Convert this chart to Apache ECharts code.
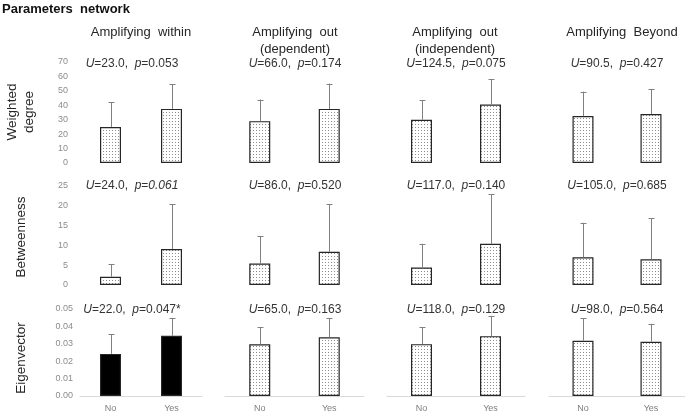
<!DOCTYPE html>
<html>
<head>
<meta charset="utf-8">
<script src="https://cdn.jsdelivr.net/npm/echarts@6/dist/echarts.min.js"></script>
<style>
  html, body { margin: 0; background: #fff; }
  #chart { width: 685px; height: 415px; }
</style>
</head>
<body>
<div id="chart"></div>
<script>
// ---- data ----
const groups = ['No', 'Yes'];
const columnTitles = [
  ['Amplifying  within'],
  ['Amplifying  out', '(dependent)'],
  ['Amplifying  out', '(independent)'],
  ['Amplifying  Beyond']
];
const rowNames = [['Weighted', 'degree'], ['Betweenness'], ['Eigenvector']];

// weighted degree (mean, sd) per column, [No, Yes]
const degreeMean = [[25, 37.5], [29, 37.5], [30, 40.5], [32.5, 34]];
const degreeSd = [[17, 17], [15, 17.5], [13.5, 17.5], [17, 17]];
const degreeU = ['23.0', '66.0', '124.5', '90.5'];
const degreeP = ['0.053', '0.174', '0.075', '0.427'];
const degreeTicks = [0, 10, 20, 30, 40, 50, 60, 70];

// betweenness
const betweenMean = [[2.1, 9.1], [5.4, 8.4], [4.4, 10.4], [7, 6.5]];
const betweenSd = [[3.1, 11.3], [7, 12], [6, 12.6], [8.7, 10.3]];
const betweenU = ['24.0', '86.0', '117.0', '105.0'];
const betweenP = ['0.061', '0.520', '0.140', '0.685'];
const betweenTicks = [0, 5, 10, 15, 20, 25];

// eigenvector
const eigenMean = [[0.0242, 0.0346], [0.0297, 0.0337], [0.0298, 0.0344], [0.0317, 0.0312]];
const eigenSd = [[0.0112, 0.0102], [0.0099, 0.0111], [0.0098, 0.0117], [0.0131, 0.0103]];
const eigenU = ['22.0', '65.0', '118.0', '98.0'];
const eigenP = ['0.047*', '0.163', '0.129', '0.564'];
const eigenTicks = [0, 0.01, 0.02, 0.03, 0.04, 0.05];

// ---- layout ----
const colLeft = [80, 225, 387, 549];
const colWidth = [122, 139, 138, 138];
const colCenter = [141, 295, 455, 622];
const statCenter = [132, 295, 456, 617];

const rows = [
  { top: 62, height: 101, ticks: degreeTicks, mean: degreeMean, sd: degreeSd, U: degreeU, P: degreeP, statY: 64, labelMargin: 12, dec: 0, nameY: 112 },
  { top: 186, height: 99, ticks: betweenTicks, mean: betweenMean, sd: betweenSd, U: betweenU, P: betweenP, statY: 186, labelMargin: 12, dec: 0, nameY: 237 },
  { top: 309, height: 87, ticks: eigenTicks, mean: eigenMean, sd: eigenSd, U: eigenU, P: eigenP, statY: 310, labelMargin: 7, dec: 2, nameY: 358 }
];

// dotted fill like the original
const pat = document.createElement('canvas');
pat.width = 3; pat.height = 3;
const pc = pat.getContext('2d');
pc.fillStyle = '#ffffff'; pc.fillRect(0, 0, 3, 3);
pc.fillStyle = '#8c8c8c'; pc.fillRect(1, 1, 1, 1);
const dotted = { image: pat, repeat: 'repeat' };

const font = '"Liberation Sans", Arial, sans-serif';

function renderErr(params, api) {
  const lo = api.coord([api.value(0), api.value(1)]);
  const hi = api.coord([api.value(0), api.value(2)]);
  const x = Math.round(lo[0]) + 0.5;
  const st = { stroke: '#808080', lineWidth: 1 };
  return {
    type: 'group',
    children: [
      { type: 'line', shape: { x1: x, y1: lo[1], x2: x, y2: hi[1] }, style: st },
      { type: 'line', shape: { x1: x - 3, y1: Math.round(hi[1]) + 0.5, x2: x + 3, y2: Math.round(hi[1]) + 0.5 }, style: st }
    ]
  };
}

const grid = [], xAxis = [], yAxis = [], series = [], graphic = [];

rows.forEach((r, ri) => {
  const last = ri === rows.length - 1;
  for (let c = 0; c < 4; c++) {
    const gi = grid.length;
    grid.push({ left: colLeft[c], width: colWidth[c], top: r.top, height: r.height });
    xAxis.push({
      type: 'category', gridIndex: gi, data: groups,
      axisLine: { show: last, lineStyle: { color: '#d9d9d9', width: 1 } },
      axisTick: { show: false },
      axisLabel: { show: last, color: '#7f7f7f', fontSize: 9, fontFamily: font, margin: 8 }
    });
    yAxis.push({
      type: 'value', gridIndex: gi,
      min: r.ticks[0], max: r.ticks[r.ticks.length - 1], interval: r.ticks[1] - r.ticks[0],
      axisLine: { show: false }, axisTick: { show: false }, splitLine: { show: false },
      axisLabel: {
        show: c === 0, color: '#8c8c8c', fontSize: 9, fontFamily: font, margin: r.labelMargin,
        formatter: v => v.toFixed(r.dec)
      }
    });
    const solid = ri === 2 && c === 0;
    series.push({
      type: 'bar', xAxisIndex: gi, yAxisIndex: gi, barWidth: 21,
      data: r.mean[c],
      itemStyle: { color: solid ? '#000' : dotted, borderColor: '#262626', borderWidth: 1.2 },
      animation: false
    });
    series.push({
      type: 'custom', xAxisIndex: gi, yAxisIndex: gi,
      renderItem: renderErr,
      encode: { x: 0, y: [1, 2] },
      data: r.mean[c].map((m, i) => [i, m, m + r.sd[c][i]]),
      animation: false, z: 3
    });
    const pItalic = ri === 1 && c === 0;
    graphic.push({
      type: 'text', x: statCenter[c], y: r.statY, z: 10,
      style: {
        text: '{i|U}=' + r.U[c] + ',  {i|p}=' + (pItalic ? '{i|' + r.P[c] + '}' : r.P[c]),
        align: 'center', verticalAlign: 'middle',
        font: '12px ' + font, fill: '#333',
        rich: { i: { fontStyle: 'italic', fontSize: 12, fontFamily: font, fill: '#333' } }
      }
    });
  }
});

// column titles
columnTitles.forEach((lines, c) => {
  lines.forEach((t, li) => {
    graphic.push({
      type: 'text', x: colCenter[c], y: 32 + li * 17,
      style: { text: t, align: 'center', verticalAlign: 'middle', font: '13px ' + font, fill: '#262626' }
    });
  });
});

// row names (rotated)
rowNames.forEach((lines, ri) => {
  const n = lines.length;
  lines.forEach((t, li) => {
    graphic.push({
      type: 'text', x: n === 1 ? 21 : 12 + li * 17, y: rows[ri].nameY, rotation: Math.PI / 2,
      style: { text: t, align: 'center', verticalAlign: 'middle', font: '13.5px ' + font, fill: '#262626' }
    });
  });
});

graphic.push({
  type: 'text', x: 2, y: 9,
  style: { text: 'Parameters  network', align: 'left', verticalAlign: 'middle', font: 'bold 13px ' + font, fill: '#111' }
});

const chart = echarts.init(document.getElementById('chart'), null, { renderer: 'canvas' });
chart.setOption({
  backgroundColor: '#fff',
  animation: false,
  grid, xAxis, yAxis, series, graphic
});
</script>
</body>
</html>
